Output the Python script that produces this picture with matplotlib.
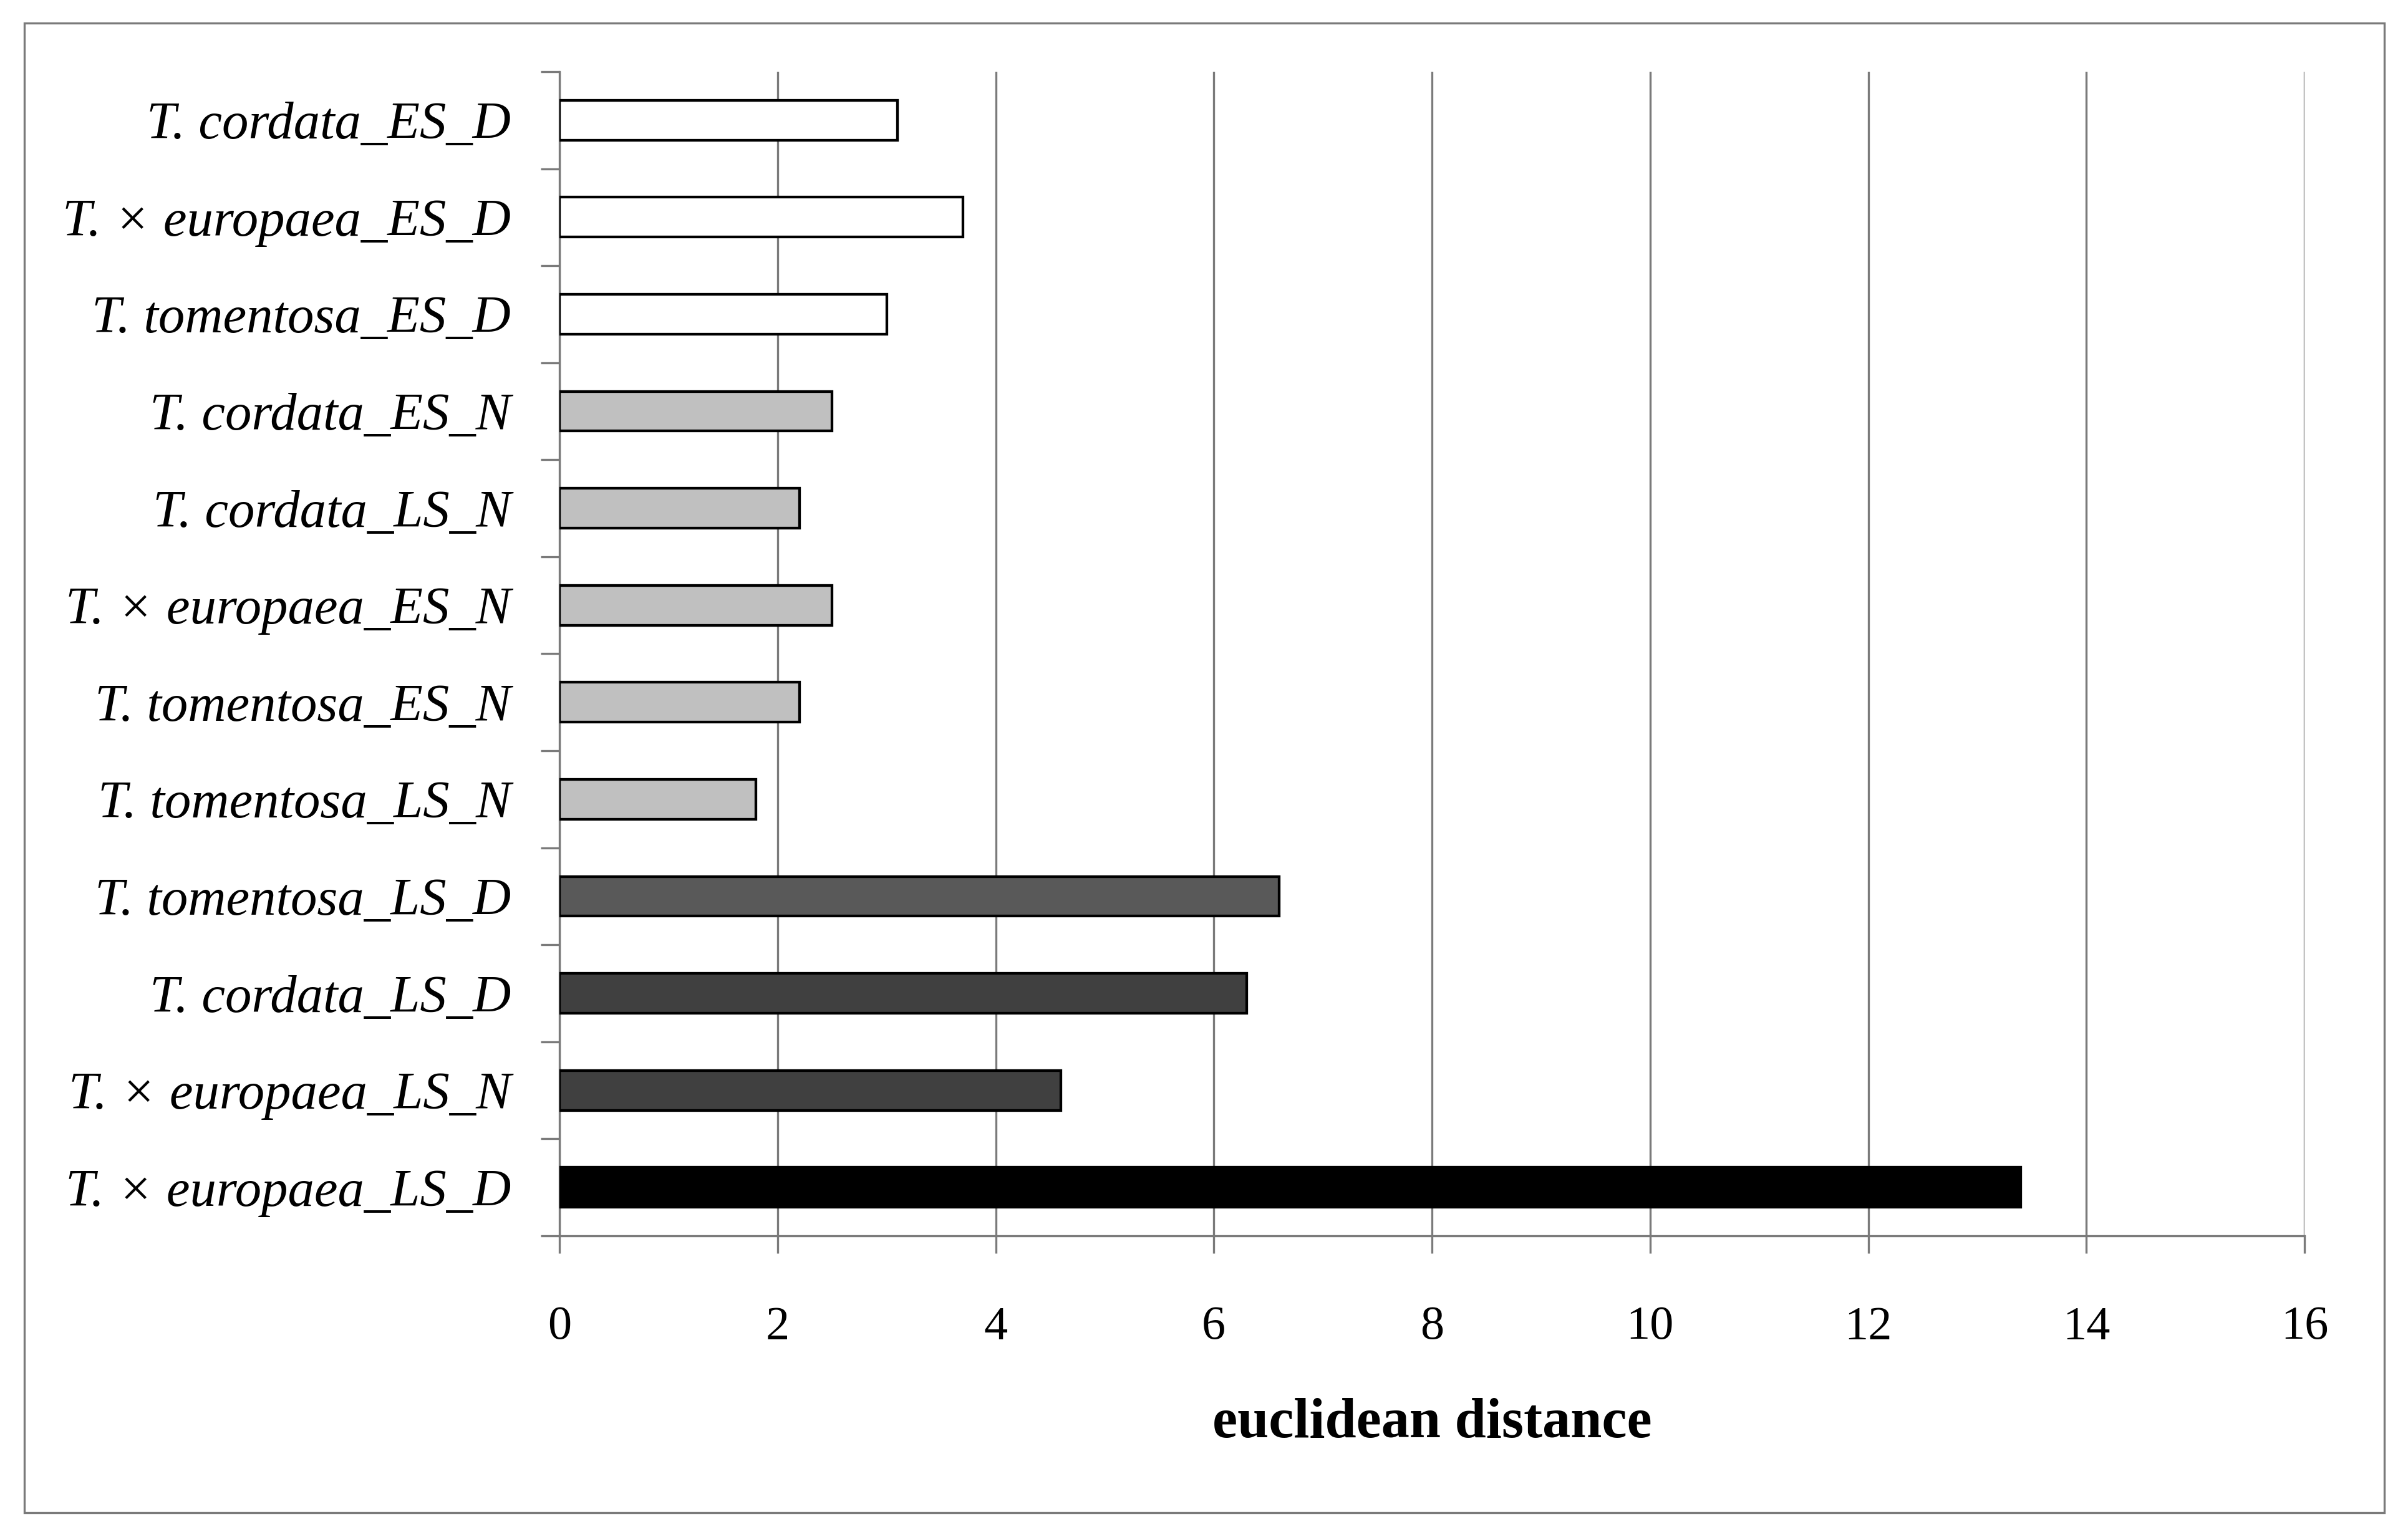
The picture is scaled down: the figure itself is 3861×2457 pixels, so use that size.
import numpy as np
import matplotlib
matplotlib.use("Agg")
import matplotlib.pyplot as plt
from matplotlib.patches import Rectangle

# categories from top to bottom
labels = [
    "T. cordata_ES_D",
    "T. × europaea_ES_D",
    "T. tomentosa_ES_D",
    "T. cordata_ES_N",
    "T. cordata_LS_N",
    "T. × europaea_ES_N",
    "T. tomentosa_ES_N",
    "T. tomentosa_LS_N",
    "T. tomentosa_LS_D",
    "T. cordata_LS_D",
    "T. × europaea_LS_N",
    "T. × europaea_LS_D",
]
distance = [3.1, 3.7, 3.0, 2.5, 2.2, 2.5, 2.2, 1.8, 6.6, 6.3, 4.6, 13.4]
bar_colors = ["#ffffff", "#ffffff", "#ffffff",
              "#c0c0c0", "#c0c0c0", "#c0c0c0", "#c0c0c0", "#c0c0c0",
              "#595959", "#404040", "#404040", "#000000"]
xticks = [0, 2, 4, 6, 8, 10, 12, 14, 16]

W, H = 3862, 2457
dpi = 100
fig = plt.figure(figsize=(W / dpi, H / dpi), dpi=dpi)
plt.rcParams["font.family"] = ["Liberation Serif", "DejaVu Serif"]

grey = "#7a7a7a"
ax = fig.add_axes([897 / W, 1 - 1982 / H, (3695 - 897) / W, (1982 - 115) / H])

y = np.arange(len(labels))
ax.barh(y, distance, height=0.41, color=bar_colors, edgecolor="black",
        linewidth=3.1, zorder=3)

ax.set_xlim(0, 16)
ax.set_ylim(len(labels) - 0.5, -0.5)
ax.set_xticks(xticks)
ax.set_xticklabels([str(v) for v in xticks], fontsize=55)
ax.grid(axis="x", color=grey, linewidth=2.4, zorder=0)

ax.set_yticks(y)
ax.set_yticklabels(labels, fontsize=61, style="italic")
ax.set_yticks(np.arange(len(labels) + 1) - 0.5, minor=True)
ax.tick_params(axis="y", which="major", length=0, pad=56)
ax.tick_params(axis="y", which="minor", length=21.6, width=2.4, color=grey)
ax.tick_params(axis="x", length=20, width=2.4, color=grey, pad=61)

for s in ["top", "right"]:
    ax.spines[s].set_visible(False)
for s in ["left", "bottom"]:
    ax.spines[s].set_color(grey)
    ax.spines[s].set_linewidth(2.4)

ax.set_xlabel("euclidean distance", fontsize=65, fontweight="bold")
ax.xaxis.set_label_coords(0.5, -(2283 - 1982) / (1982 - 115))
ax.xaxis.label.set_va("center")

fig.patches.append(Rectangle((39 / W, 1 - 2426 / H), (3823 - 39) / W, (2426 - 37) / H,
                             transform=fig.transFigure, fill=False,
                             edgecolor=grey, linewidth=2.4))

fig.savefig("out.png", dpi=dpi)
